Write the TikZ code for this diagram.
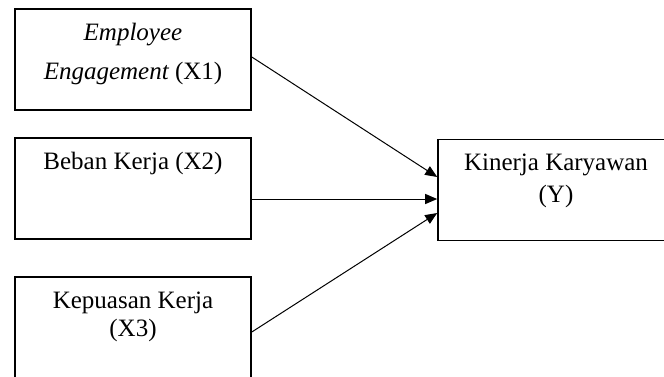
\documentclass[tikz,border=0pt]{standalone}
\usepackage{fontspec}
\setmainfont{Liberation Serif}
\usetikzlibrary{arrows.meta}
\usetikzlibrary{positioning}
\tikzset {
  % path style with an arrow at the end
  arr/.style = {
    draw = black,
    line width = 0.5pt,
    -{Triangle[length = 6pt, width = 5pt]}
  }
}
\tikzset {
  % variable box
  var/.style = {
    draw = black,
    rectangle,
    line width = 0.8pt,
    minimum width = 118pt,
    minimum height = 50.5pt,
    inner sep = 0
  },
  % box caption
  caption/.style = {
    align = center,
    inner sep = 0,
    font = \fontsize{12.5}{15}\selectfont
  }
}

\begin{document}
\begin{tikzpicture}[x = 0.5pt, y = -0.5pt]
    \useasboundingbox (0,0) rectangle (664,376);
    \clip (0,0) rectangle (664,376);

    \node[var] (x1) at (133,59.5) {};
    \node[var] (x2) at (133,188.5) {};
    \node[var] (x3) at (133,327.5) {};
    \node[var] (y) at (556,190) {};

    \node[caption] (x1-text) [below = 7.5pt of x1.north]
      {\itshape Employee\\[4.5pt] \itshape Engagement \upshape(X1)};
    \node[caption] (x2-text) [below = 7.5pt of x2.north] {Beban Kerja (X2)};
    \node[caption] (x3-text) [below = 7.5pt of x3.north]
      {Kepuasan Kerja\\[-1pt] (X3)};
    \node[caption] (y-text) [below = 7.5pt of y.north]
      {Kinerja Karyawan\\[1pt] (Y)};

    \draw[arr] ([yshift = 1.25pt]x1.east) -- ([yshift = 6.5pt]y.west);
    \draw[arr] ([yshift = -5.25pt]x2.east) -- ([yshift = -4.5pt]y.west);
    \draw[arr] ([yshift = -2.25pt]x3.east) -- ([yshift = -11.5pt]y.west);
  \end{tikzpicture}
\end{document}
